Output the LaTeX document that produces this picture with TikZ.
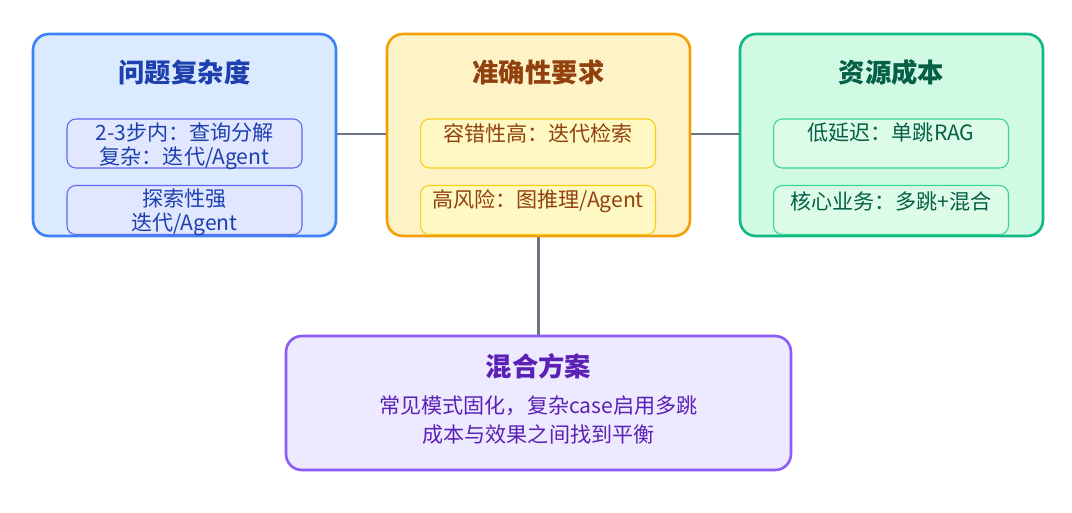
\documentclass[tikz,border=0pt]{standalone}
\usepackage{fontspec}
\setmainfont{Noto Sans CJK SC}
\usetikzlibrary{positioning}
\definecolor{blueB}{HTML}{3B82F6}\definecolor{blueF}{HTML}{DBEAFE}\definecolor{blueT}{HTML}{1E40AF}
\definecolor{blueIB}{HTML}{6366F1}\definecolor{blueIF}{HTML}{E0E7FF}
\definecolor{orgB}{HTML}{F59E0B}\definecolor{orgF}{HTML}{FEF3C7}\definecolor{orgT}{HTML}{92400E}
\definecolor{orgIB}{HTML}{FACC15}\definecolor{orgIF}{HTML}{FEF9C3}
\definecolor{grnB}{HTML}{10B981}\definecolor{grnF}{HTML}{D1FAE5}\definecolor{grnT}{HTML}{065F46}
\definecolor{grnIB}{HTML}{34D399}\definecolor{grnIF}{HTML}{DCFCE7}
\definecolor{purB}{HTML}{8B5CF6}\definecolor{purF}{HTML}{EDE9FE}\definecolor{purT}{HTML}{5B21B6}
\definecolor{lineC}{HTML}{6B7280}
\tikzset{
  panel/.style={draw=#1B, fill=#1F, line width=1.5pt, rounded corners=9pt,
                minimum width=6.06cm, minimum height=4.04cm},
  inbox/.style={draw=#1IB, fill=#1IF, line width=0.6pt, rounded corners=5pt,
                minimum width=4.7cm, minimum height=0.98cm},
  ttl/.style={font=\bfseries\fontsize{15}{18}\selectfont},
  txt/.style={font=\fontsize{12}{13.5}\selectfont, align=center, inner sep=0pt},
  link/.style={draw=lineC, line width=1.5pt}
}
\begin{document}
\begin{tikzpicture}[x=0.02cm,y=-0.02cm]
 \useasboundingbox (0,0) rectangle (1072,512);
 % three panels
 \node[panel=blue] (cplx) at (184.5,135) {};
 \node[panel=org] (acc) at (538.5,135) {};
 \node[panel=grn] (cost) at (891.5,135) {};
 \node[ttl, text=blueT] at (184.5,72) {问题复杂度};
 \node[ttl, text=orgT] at (538.5,72) {准确性要求};
 \node[ttl, text=grnT] at (891.5,72) {资源成本};
 % inner boxes
 \node[inbox=blue] (c1) at (184.5,143.5) {};
 \node[inbox=blue] (c2) at (184.5,210) {};
 \node[inbox=org] (a1) at (538,143.5) {};
 \node[inbox=org] (a2) at (538,210) {};
 \node[inbox=grn] (r1) at (891,143.5) {};
 \node[inbox=grn] (r2) at (891,210) {};
 \node[txt, text=blueT] at (184.5,146) {2-3步内：查询分解\\复杂：迭代/Agent};
 \node[txt, text=blueT] at (184.5,212) {探索性强\\迭代/Agent};
 \node[txt, text=orgT] at (538,133) {容错性高：迭代检索};
 \node[txt, text=orgT] at (538,201) {高风险：图推理/Agent};
 \node[txt, text=grnT] at (891,133) {低延迟：单跳RAG};
 \node[txt, text=grnT] at (891,201) {核心业务：多跳+混合};
 % bottom panel
 \node[panel=pur, minimum width=10.1cm, minimum height=2.68cm] (mix) at (538.5,403) {};
 \node[ttl, text=purT] at (538.5,366) {混合方案};
 \node[txt, text=purT] at (538.5,420) {常见模式固化，复杂case启用多跳\\[3pt]成本与效果之间找到平衡};
 % connectors
 \draw[link] (cplx.east |- 0,134) -- (acc.west |- 0,134);
 \draw[link] (acc.east |- 0,134) -- (cost.west |- 0,134);
 \draw[link] (acc.south) -- (mix.north);
\end{tikzpicture}
\end{document}
